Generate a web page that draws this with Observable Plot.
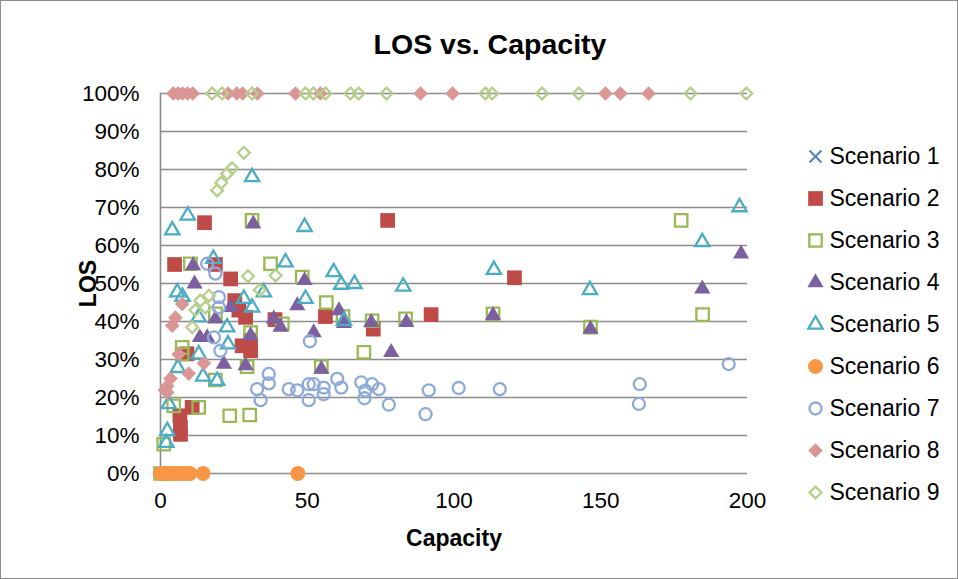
<!DOCTYPE html>
<html><head><meta charset="utf-8">
<script src="https://cdn.jsdelivr.net/npm/d3@7"></script>
<script src="https://cdn.jsdelivr.net/npm/@observablehq/plot@0.6"></script>
<style>
body{margin:0;background:#fff;font-family:Arial,"Liberation Sans",sans-serif;}
#chart{position:relative;width:958px;height:579px;overflow:hidden;background:#fff;}
#frame{position:absolute;left:0;top:0;width:958px;height:579px;box-sizing:border-box;border:1px solid #8c8c8c;pointer-events:none;}
#title{position:absolute;left:490px;top:28px;transform:translateX(-50%);font-size:28.5px;font-weight:bold;white-space:nowrap;color:#000;}
#legend{position:absolute;left:800px;top:135px;}
#main{position:absolute;left:0;top:0;}
</style>
</head><body>
<div id="chart"><div id="main"></div><div id="title">LOS vs. Capacity</div><div id="legend"></div><div id="frame"></div></div>
<script>
// ---- data: [capacity, LOS %] ----
const seriesNames = ["Scenario 1","Scenario 2","Scenario 3","Scenario 4","Scenario 5","Scenario 6","Scenario 7","Scenario 8","Scenario 9"];
const xTicks = [0, 50, 100, 150, 200];
const yTicks = [0, 0.1, 0.2, 0.3, 0.4, 0.5, 0.6, 0.7, 0.8, 0.9, 1];
const xTitle = "Capacity";
const yTitle = "LOS";

const scenario1 = [[0,0],[2,0],[4,0]];
const scenario2 = [[15,66],[77.4,66.6],[4.8,55],[18.7,55],[23.9,51.2],[120.6,51.5],[25.3,45.5],[26.7,43],[29,41.1],[39,40.5],[56.2,41.3],[92.2,41.8],[72.5,38],[30.7,35],[27.8,33.6],[30.7,32.3],[9,31.5],[10.8,17.4],[6.6,15.2],[6.8,12.1],[6.8,10.3]];
const scenario3 = [[0,0],[1.1,7.7],[4.5,17.8],[13,17.4],[23.6,15.2],[30.4,15.4],[29.5,28.1],[18.7,24.6],[7.4,31.4],[7.4,33.2],[31.2,66.6],[10.2,55.2],[37.5,55.2],[48.3,51.7],[30.7,37.1],[41.5,39.4],[18.7,42],[56.5,45],[62.2,41.3],[72.1,40.2],[83.5,40.7],[69.3,31.9],[54.8,28.1],[113.3,42],[146.5,38.5],[177.4,66.6],[184.7,41.8]];
const scenario4 = [[31.6,65.7],[11.1,54.7],[11.6,49.9],[49.1,50.8],[23.9,43.7],[18.7,40.7],[38.6,40.7],[46.6,44.2],[30.7,36.3],[40.9,38.5],[13.4,35.8],[15.9,35.8],[21.6,28.8],[29,28.4],[60.8,42.9],[71.8,39.8],[83.8,39.8],[52.2,37.1],[78.6,31.9],[54.8,27.5],[113.3,41.6],[146.5,38],[184.6,48.6],[197.8,57.8],[62.5,39.5]];
const scenario5 = [[31.2,78],[9.3,67.9],[4,64],[49.1,64.9],[18,56.5],[42.6,55.6],[5.7,47.7],[7.5,46.5],[35.2,47.7],[28.4,46],[31.2,43.7],[49.4,46],[22.7,38.5],[13,41.1],[13,31.4],[14.5,25.5],[19.3,24.4],[5.9,27.8],[2.8,18.3],[2.3,11.2],[2,8.1],[23,34],[59,53],[61.6,49.7],[66.1,49.9],[82.7,49.2],[62.5,40.2],[113.6,53.6],[146.3,48.3],[184.6,60.9],[197.3,70.1]];
const scenario6 = [[0,0],[1,0],[2,0],[3,0],[4,0],[5,0],[6,0],[7,0],[8,0],[9,0],[10,0],[14.5,0],[46.8,0]];
const scenario7 = [[15.9,55.2],[18.7,52.6],[19.9,46.4],[19.9,43.7],[18.2,35.8],[20.4,32.3],[36.9,26.2],[36.9,23.7],[32.9,22.2],[34.1,19.3],[43.7,22.2],[46.6,21.9],[50.5,23.5],[50.5,19.3],[50.9,34.8],[52.2,23.5],[55.6,22.6],[55.6,20.9],[60.2,24.9],[61.6,22.6],[68.4,24],[69.8,21.8],[69.5,19.8],[72.1,23.5],[74.4,22.2],[77.8,18.1],[91.4,21.9],[90.3,15.6],[101.6,22.5],[115.6,22.2],[163.3,23.5],[163,18.3],[193.6,28.8]];
const scenario8 = [[4.4,100],[6,100],[7.5,100],[9.2,100],[11,100],[23,100],[26,100],[28,100],[33,100],[46,100],[54.5,100],[88.6,100],[99.5,100],[151.6,100],[156.7,100],[166.3,100],[7.4,44.6],[5.1,41],[4,38.9],[6.2,31.4],[14.8,29],[9.6,26.3],[3.4,25],[2.3,23],[2.3,21.3],[1.5,22]];
const scenario9 = [[17.6,100],[21,100],[31.2,100],[49.4,100],[52.1,100],[56.2,100],[64.7,100],[67.5,100],[77,100],[110.7,100],[113,100],[130,100],[142.5,100],[180.6,100],[199.6,100],[28.4,84.4],[24.4,80.3],[22.7,78.9],[20.7,76.5],[19.3,74.5],[29.8,51.9],[39.2,52.1],[33.8,48.3],[16.5,46.8],[13.6,45.5],[11.9,43],[15.3,43.7],[10.8,38.5]];

const seriesData = [scenario1,scenario2,scenario3,scenario4,scenario5,scenario6,scenario7,scenario8,scenario9];

// ---- styles ----
const styles = [
  {symbol:"times", fill:"none", stroke:"#4F81BD", r:5.5, sw:2},
  {symbol:"square", fill:"#BE4B48", stroke:"none", r:8.3, sw:0},
  {symbol:"square", fill:"none", stroke:"#98B954", r:7, sw:2.3},
  {symbol:"triangle", fill:"#7D60A0", stroke:"none", r:6, sw:0},
  {symbol:"triangle", fill:"none", stroke:"#4AACC5", r:5.3, sw:2.3},
  {symbol:"circle", fill:"#F79646", stroke:"none", r:7.5, sw:0},
  {symbol:"circle", fill:"none", stroke:"#8DAAD9", r:6, sw:2.3},
  {symbol:"diamond2", fill:"#D99694", stroke:"none", r:6.6, sw:0},
  {symbol:"diamond2", fill:"none", stroke:"#B6CF8A", r:5.3, sw:2.3}
];

const font = "Arial, 'Liberation Sans', sans-serif";
const grid = "#8c8c8c";

const dotMarks = seriesData.map((data, i) => Plot.dot(data, {
  x: d => d[0], y: d => d[1] / 100,
  symbol: () => styles[i].symbol,
  r: styles[i].r, fill: styles[i].fill, stroke: styles[i].stroke, strokeWidth: styles[i].sw
}));

const chart = Plot.plot({
  width: 958, height: 579,
  marginLeft: 160, marginRight: 211, marginTop: 93, marginBottom: 106,
  style: {fontFamily: font, fontSize: "22.5px", color: "#000", background: "transparent", overflow: "visible"},
  symbol: {type: "identity"},
  x: {domain: [0, 200], ticks: xTicks, tickSize: 0, tickPadding: 19, label: null},
  y: {domain: [0, 1], ticks: yTicks, tickFormat: d3.format(".0%"), tickSize: 0, tickPadding: 21, label: null},
  marks: [
    Plot.ruleY(yTicks, {stroke: grid, strokeWidth: 1.6}),
    Plot.ruleX([0], {y1: 0, y2: 1, stroke: grid, strokeWidth: 1.6}),
    ...dotMarks,
    Plot.text([xTitle], {text: d => d, frameAnchor: "bottom", textAnchor: "middle", lineAnchor: "middle", dy: 65, fontWeight: "bold", fontSize: 23, fill: "#000"}),
    Plot.text([yTitle], {text: d => d, frameAnchor: "left", textAnchor: "middle", lineAnchor: "middle", dx: -72, rotate: -90, fontWeight: "bold", fontSize: 23, fill: "#000"})
  ]
});
document.getElementById("main").append(chart);

// ---- legend ----
const legendRows = seriesNames.map((name, i) => ({name, i}));
const legend = Plot.plot({
  width: 150, height: 378,
  marginTop: 20, marginBottom: 20, marginLeft: 15, marginRight: 0,
  style: {fontFamily: font, fontSize: "23px", color: "#000", background: "transparent", overflow: "visible"},
  y: {type: "point", domain: seriesNames, padding: 0, axis: null},
  symbol: {type: "identity"},
  marks: [
    ...legendRows.map(row => Plot.dot([row], {
      y: d => d.name, frameAnchor: "left",
      symbol: () => styles[row.i].symbol,
      r: styles[row.i].r, fill: styles[row.i].fill, stroke: styles[row.i].stroke, strokeWidth: styles[row.i].sw
    })),
    Plot.text(legendRows, {y: d => d.name, text: d => d.name, frameAnchor: "left", dx: 14, textAnchor: "start", fill: "#000"})
  ]
});
document.getElementById("legend").append(legend);
</script>
</body></html>
